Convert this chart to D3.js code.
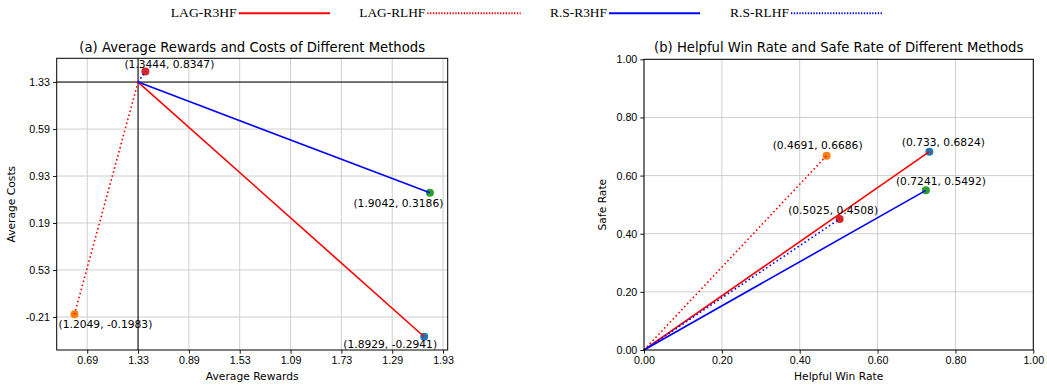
<!DOCTYPE html>
<html>
<head>
<meta charset="utf-8">
<script src="https://cdn.jsdelivr.net/npm/d3@7"></script>
<style>
  body { margin: 0; background: #fff; }
  svg { display: block; font-family: "DejaVu Sans", sans-serif; }
  .tick text { font-size: 10.7px; fill: #000; }
  .tick line { stroke: #000; stroke-width: 0.9; }
  .domain { display: none; }
</style>
</head>
<body>
<svg id="chart" width="1047" height="386"></svg>
<script>
// methods and values, same order everywhere
const methods = ["LAG-R3HF", "LAG-RLHF", "R.S-R3HF", "R.S-RLHF"];
const avgRewards = [1.8929, 1.2049, 1.9042, 1.3444];
const avgCosts = [-0.2941, -0.1983, 0.3186, 0.8347];
const helpfulWin = [0.733, 0.4691, 0.7241, 0.5025];
const safeRate = [0.6824, 0.6686, 0.5492, 0.4508];

const pointColors = ["#1f77b4", "#ff7f0e", "#2ca02c", "#d62728"];
const lineColors = ["red", "red", "blue", "blue"];
const lineDotted = [false, true, false, true];

// left panel: reference cross and tick labels as printed
const leftOrigin = [1.33, 0.79];
const rewardTicks = [1.23, 1.33, 1.43, 1.53, 1.63, 1.73, 1.83, 1.93];
const rewardTickLabels = ["0.69", "1.33", "0.89", "1.53", "1.09", "1.73", "1.29", "1.93"];
const costTicks = [0.79, 0.59, 0.39, 0.19, -0.01, -0.21];
const costTickLabels = ["1.33", "0.59", "0.93", "0.19", "0.53", "-0.21"];

// right panel
const rightOrigin = [0, 0];
const rateTicks = [0, 0.2, 0.4, 0.6, 0.8, 1.0];

const svg = d3.select("#chart");

function pad(ext) {
  const m = (ext[1] - ext[0]) * 0.05;
  return [ext[0] - m, ext[1] + m];
}

function panel(opt) {
  const g = svg.append("g");
  const x = d3.scaleLinear().domain(opt.xDomain).range([opt.left, opt.right]);
  const y = d3.scaleLinear().domain(opt.yDomain).range([opt.bottom, opt.top]);

  // grid
  g.append("g").selectAll("line").data(opt.xTicks).join("line")
    .attr("x1", d => x(d)).attr("x2", d => x(d))
    .attr("y1", opt.top).attr("y2", opt.bottom)
    .attr("stroke", "#cfcfcf").attr("stroke-width", 1);
  g.append("g").selectAll("line").data(opt.yTicks).join("line")
    .attr("y1", d => y(d)).attr("y2", d => y(d))
    .attr("x1", opt.left).attr("x2", opt.right)
    .attr("stroke", "#cfcfcf").attr("stroke-width", 1);

  // axes
  g.append("g").attr("transform", `translate(0,${opt.bottom})`)
    .call(d3.axisBottom(x).tickValues(opt.xTicks).tickSize(3.7).tickPadding(3)
      .tickFormat((d, i) => opt.xLabels[i]));
  g.append("g").attr("transform", `translate(${opt.left},0)`)
    .call(d3.axisLeft(y).tickValues(opt.yTicks).tickSize(3.7).tickPadding(3)
      .tickFormat((d, i) => opt.yLabels[i]));

  // optional cross lines
  if (opt.cross) {
    g.append("line").attr("x1", x(opt.origin[0])).attr("x2", x(opt.origin[0]))
      .attr("y1", opt.top).attr("y2", opt.bottom).attr("stroke", "#000").attr("stroke-width", 1);
    g.append("line").attr("x1", opt.left).attr("x2", opt.right)
      .attr("y1", y(opt.origin[1])).attr("y2", y(opt.origin[1])).attr("stroke", "#000").attr("stroke-width", 1);
  }

  const pts = opt.xs.map((v, i) => ({x: v, y: opt.ys[i], i}));

  // dots
  g.append("g").selectAll("circle").data(pts).join("circle")
    .attr("cx", d => x(d.x)).attr("cy", d => y(d.y)).attr("r", 4)
    .attr("fill", d => pointColors[d.i]);

  // lines from origin
  g.append("g").selectAll("line").data(pts).join("line")
    .attr("x1", x(opt.origin[0])).attr("y1", y(opt.origin[1]))
    .attr("x2", d => x(d.x)).attr("y2", d => y(d.y))
    .attr("stroke", d => lineColors[d.i]).attr("stroke-width", 1.6)
    .attr("stroke-dasharray", d => lineDotted[d.i] ? "1.6,2.6" : null);

  // value labels
  g.append("g").selectAll("text").data(pts).join("text")
    .attr("x", d => x(d.x) + opt.labelOffsets[d.i][0])
    .attr("y", d => y(d.y) + opt.labelOffsets[d.i][1])
    .attr("text-anchor", "middle").attr("font-size", 10.7)
    .text(d => `(${d.x}, ${d.y})`);

  // frame
  g.append("rect").attr("x", opt.left).attr("y", opt.top)
    .attr("width", opt.right - opt.left).attr("height", opt.bottom - opt.top)
    .attr("fill", "none").attr("stroke", "#000").attr("stroke-width", 1);

  // title and axis names
  const cx = (opt.left + opt.right) / 2, cy = (opt.top + opt.bottom) / 2;
  g.append("text").attr("x", cx).attr("y", 51.5).attr("text-anchor", "middle")
    .attr("font-size", 13.2).text(opt.title);
  g.append("text").attr("x", cx).attr("y", 380).attr("text-anchor", "middle")
    .attr("font-size", 10.7).text(opt.xName);
  g.append("text").attr("transform", `translate(${opt.yNameX},${cy}) rotate(-90)`)
    .attr("text-anchor", "middle").attr("font-size", 10.7).text(opt.yName);
}

panel({
  left: 56.7, right: 447.7, top: 58.3, bottom: 350,
  xDomain: pad(d3.extent(avgRewards)), yDomain: pad(d3.extent(avgCosts)),
  xTicks: rewardTicks, xLabels: rewardTickLabels,
  yTicks: costTicks, yLabels: costTickLabels,
  cross: true, origin: leftOrigin,
  xs: avgRewards, ys: avgCosts,
  labelOffsets: [[-34, 11], [31, 14], [-31.5, 14], [24, -4]],
  title: "(a) Average Rewards and Costs of Different Methods",
  xName: "Average Rewards", yName: "Average Costs", yNameX: 15
});

panel({
  left: 644, right: 1033.3, top: 59.3, bottom: 350,
  xDomain: [0, 1], yDomain: [0, 1],
  xTicks: rateTicks, xLabels: rateTicks.map(d3.format(".2f")),
  yTicks: rateTicks, yLabels: rateTicks.map(d3.format(".2f")),
  cross: false, origin: rightOrigin,
  xs: helpfulWin, ys: safeRate,
  labelOffsets: [[14, -6], [-9, -7], [15, -5], [-6.5, -5]],
  title: "(b) Helpful Win Rate and Safe Rate of Different Methods",
  xName: "Helpful Win Rate", yName: "Safe Rate", yNameX: 606
});

// legend across the top
const legendX = [170.7, 359.3, 550, 730];
const legendLineEnd = [330, 520.7, 700, 882.7];
const legendTextW = [66, 66, 57, 59];
const lg = svg.append("g").attr("font-family", "'Liberation Serif', serif");
methods.forEach((m, i) => {
  lg.append("text").attr("x", legendX[i]).attr("y", 16.5)
    .attr("font-size", 13).attr("textLength", legendTextW[i])
    .attr("lengthAdjust", "spacingAndGlyphs").text(m);
  lg.append("line").attr("x1", legendX[i] + legendTextW[i] + 2).attr("x2", legendLineEnd[i])
    .attr("y1", 13.3).attr("y2", 13.3)
    .attr("stroke", lineColors[i]).attr("stroke-width", 2)
    .attr("stroke-dasharray", lineDotted[i] ? "1.3,1.5" : null);
});
</script>
</body>
</html>
